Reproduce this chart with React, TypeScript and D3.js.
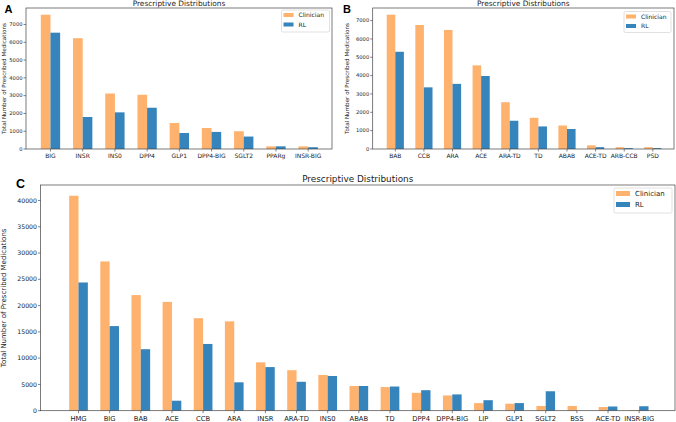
import React from "react";
import * as d3 from "d3";

const catsA = ["BIG", "INSR", "INS0", "DPP4", "GLP1", "DPP4-BIG", "SGLT2", "PPARg", "INSR-BIG"];
const clinA = [7550, 6230, 3120, 3050, 1460, 1180, 1000, 150, 150];
const rlA = [6540, 1800, 2060, 2320, 900, 960, 700, 150, 100];

const catsB = ["BAB", "CCB", "ARA", "ACE", "ARA-TD", "TD", "ABAB", "ACE-TD", "ARB-CCB", "PSD"];
const clinB = [7320, 6760, 6490, 4560, 2550, 1700, 1280, 200, 100, 100];
const rlB = [5300, 3360, 3550, 3980, 1540, 1230, 1090, 100, 50, 50];

const catsC = ["HMG", "BIG", "BAB", "ACE", "CCB", "ARA", "INSR", "ARA-TD", "INS0", "ABAB", "TD", "DPP4", "DPP4-BIG", "LIP", "GLP1", "SGLT2", "BSS", "ACE-TD", "INSR-BIG"];
const clinC = [40900, 28400, 22000, 20700, 17600, 17000, 9200, 7700, 6800, 4700, 4500, 3400, 2900, 1450, 1330, 900, 900, 700, 100];
const rlC = [24400, 16100, 11700, 1900, 12700, 5400, 8300, 5500, 6600, 4700, 4600, 3900, 3100, 2000, 1450, 3700, 0, 800, 850];

const ticksA = [0, 1000, 2000, 3000, 4000, 5000, 6000, 7000];
const ticksC = [0, 5000, 10000, 15000, 20000, 25000, 30000, 35000, 40000];

const ORANGE = "#ff7f0e";
const BLUE = "#1f77b4";
const FONT = "DejaVu Sans, sans-serif";

type PanelProps = {
  letter: string;
  cats: string[];
  clin: number[];
  rl: number[];
  ticks: number[];
  left: number; right: number; top: number; bottom: number;
  xDom: [number, number];
  fs: number; yfs: number; tfs: number; lfs: number; letterFs: number;
  letterX: number; letterY: number;
  ylabX: number;
  titleY: number;
  legend: { x: number; y: number; w: number; h: number; pw: number; ph: number; row: number; fs: number };
};

function Panel(p: PanelProps) {
  const ymax = d3.max(p.clin.concat(p.rl))! * 1.05;
  const x = d3.scaleLinear().domain(p.xDom).range([p.left, p.right]);
  const y = d3.scaleLinear().domain([0, ymax]).range([p.bottom, p.top]);
  const w = 0.3;
  const midX = (p.left + p.right) / 2;
  const midY = (p.top + p.bottom) / 2;
  const L = p.legend;
  return (
    <g fontFamily={FONT}>
      <text x={p.letterX} y={p.letterY} fontSize={p.letterFs} fontWeight="bold" fontFamily="Liberation Sans, Arial, sans-serif">{p.letter}</text>
      <text x={midX} y={p.titleY} fontSize={p.tfs} textAnchor="middle" fill="#222">Prescriptive Distributions</text>
      {p.cats.map((c, i) => (
        <g key={c}>
          <rect x={x(i - w)} y={y(p.clin[i])} width={x(w) - x(0)} height={p.bottom - y(p.clin[i])} fill={ORANGE} fillOpacity={0.6} />
          <rect x={x(i)} y={y(p.rl[i])} width={x(w) - x(0)} height={p.bottom - y(p.rl[i])} fill={BLUE} fillOpacity={0.9} />
          <line x1={x(i)} x2={x(i)} y1={p.bottom} y2={p.bottom + 2.5} stroke="#333" strokeWidth={0.6} />
          <text x={x(i)} y={p.bottom + 3 + p.fs} fontSize={p.fs} textAnchor="middle" fill="#222">{c}</text>
        </g>
      ))}
      {p.ticks.map((t) => (
        <g key={t}>
          <line x1={p.left - 2.5} x2={p.left} y1={y(t)} y2={y(t)} stroke="#333" strokeWidth={0.6} />
          <text x={p.left - 3.5} y={y(t)} dy="0.35em" fontSize={p.yfs} textAnchor="end" fill="#222">{t}</text>
        </g>
      ))}
      <text transform={`translate(${p.ylabX},${midY}) rotate(-90)`} fontSize={p.lfs} textAnchor="middle" fill="#222">Total Number of Prescribed Medications</text>
      <rect x={p.left} y={p.top} width={p.right - p.left} height={p.bottom - p.top} fill="none" stroke="#444" strokeWidth={0.7} />
      <rect x={L.x} y={L.y} width={L.w} height={L.h} fill="white" fillOpacity={0.8} stroke="#ccc" strokeWidth={0.6} rx={1.5} />
      {[["Clinician", ORANGE, 0.6], ["RL", BLUE, 0.9]].map(([name, col, op], k) => (
        <g key={name as string}>
          <rect x={L.x + 2} y={L.y + 3 + k * L.row} width={L.pw} height={L.ph} fill={col as string} fillOpacity={op as number} />
          <text x={L.x + 2 + L.pw + 5} y={L.y + 3 + k * L.row + L.ph / 2} dy="0.35em" fontSize={L.fs} fill="#222">{name as string}</text>
        </g>
      ))}
    </g>
  );
}

export default function App() {
  return (
    <svg width={676} height={422} style={{ position: "absolute", left: 0, top: 0, background: "white" }}>
      <Panel letter="A" cats={catsA} clin={clinA} rl={rlA} ticks={ticksA}
        left={26} right={332} top={8} bottom={149} xDom={[-0.76, 8.74]}
        fs={6} yfs={5.2} tfs={7.4} lfs={5.6} letterFs={11} letterX={4.5} letterY={12.8} ylabX={5.5} titleY={6}
        legend={{ x: 281.5, y: 10, w: 48, h: 22, pw: 10, ph: 4, row: 9.5, fs: 6 }} />
      <Panel letter="B" cats={catsB} clin={clinB} rl={rlB} ticks={ticksA}
        left={372.7} right={674} top={8} bottom={149} xDom={[-0.79, 9.74]}
        fs={6} yfs={5.2} tfs={7.4} lfs={5.6} letterFs={11} letterX={343} letterY={12.8} ylabX={349} titleY={6}
        legend={{ x: 624, y: 11.5, w: 47, h: 21, pw: 10, ph: 4, row: 9.5, fs: 6 }} />
      <Panel letter="C" cats={catsC} clin={clinC} rl={rlC} ticks={ticksC}
        left={40.5} right={675} top={185} bottom={410.7} xDom={[-1.22, 19.15]}
        fs={6.8} yfs={6.2} tfs={8.9} lfs={7} letterFs={12.5} letterX={16} letterY={188.3} ylabX={6} titleY={181.5}
        legend={{ x: 614, y: 188, w: 58, h: 25, pw: 14, ph: 5, row: 11, fs: 7 }} />
    </svg>
  );
}
